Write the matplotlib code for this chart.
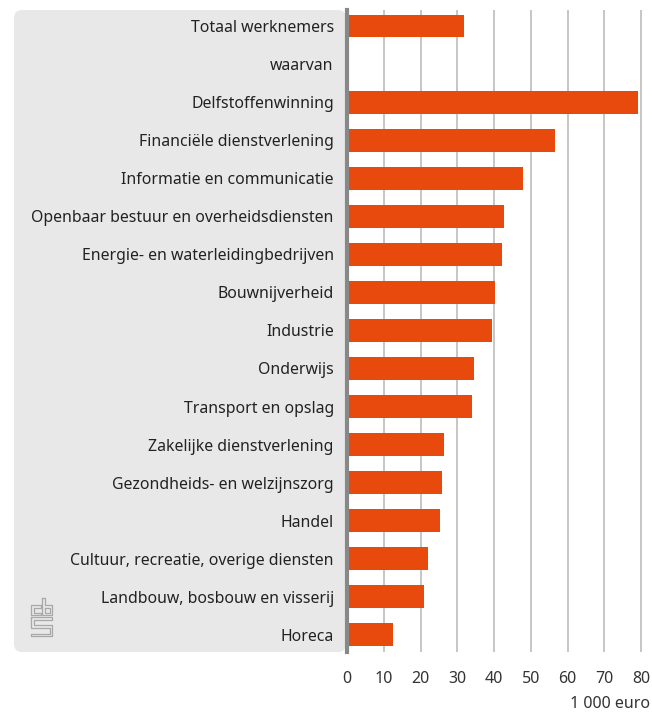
import numpy as np
import matplotlib.pyplot as plt
from matplotlib.patches import FancyBboxPatch

categories = [
    "Totaal werknemers", "waarvan", "Delfstoffenwinning",
    "Financiële dienstverlening", "Informatie en communicatie",
    "Openbaar bestuur en overheidsdiensten", "Energie- en waterleidingbedrijven",
    "Bouwnijverheid", "Industrie", "Onderwijs", "Transport en opslag",
    "Zakelijke dienstverlening", "Gezondheids- en welzijnszorg", "Handel",
    "Cultuur, recreatie, overige diensten", "Landbouw, bosbouw en visserij",
    "Horeca",
]
values = [31.8, np.nan, 79.1, 56.6, 47.9, 42.7, 42.2, 40.3, 39.5, 34.6, 34.0,
          26.4, 25.9, 25.3, 22.0, 21.0, 12.5]
xticks = [0, 10, 20, 30, 40, 50, 60, 70, 80]
unit_label = "1 000 euro"

W, H = 652, 712
plt.rcParams['font.family'] = ['Noto Sans', 'DejaVu Sans']
fig = plt.figure(figsize=(W / 100, H / 100), dpi=100)

# grey label panel, behind the axes
panel = FancyBboxPatch((14 / W, (H - 652) / H), (346 - 14) / W, 642 / H,
                       boxstyle="round,pad=0,rounding_size=0.012",
                       transform=fig.transFigure, facecolor="#e8e8e8",
                       edgecolor="none", zorder=-1)
fig.patches.append(panel)

ax = fig.add_axes([347 / W, (H - 652) / H, (650 - 347) / W, 642 / H])
ax.set_facecolor("none")
y = np.arange(len(categories))
ax.barh(y, values, height=0.6, color="#e8490c", zorder=3)
ax.set_ylim(len(categories) - 0.55, -0.42)
ax.set_xlim(0, 80 * 303 / 294)
ax.set_xticks(xticks)
ax.set_yticks(y, categories)
ax.grid(axis="x", color="#bcbcbc", linewidth=1.2, zorder=1)
ax.tick_params(axis="x", length=0, pad=14, labelsize=11.5, labelcolor="#333333")
ax.tick_params(axis="y", length=0, pad=9.5, labelsize=11.4, labelcolor="#222222")
for s in ["top", "right", "bottom"]:
    ax.spines[s].set_visible(False)
ax.spines["left"].set_color("#888888")
ax.spines["left"].set_linewidth(3)
ax.spines["left"].set_zorder(4)

fig.text(650 / W, 1 - 704 / H, unit_label, ha="right", va="center",
         fontsize=11.5, color="#333333")

# cbs logo, rough outline drawing
def shape(pts):
    xs = [p[0] / W for p in pts]
    ys = [1 - p[1] / H for p in pts]
    fig.add_artist(plt.Line2D(xs, ys, color="#a8a8a8", linewidth=0.9,
                              transform=fig.transFigure))

shape([(41, 605), (31, 605), (31, 615), (41, 615), (41, 612.5),
       (33.5, 612.5), (33.5, 607.5), (41, 607.5), (41, 605)])
shape([(42, 598), (42, 615), (52, 615), (52, 605), (44.5, 605),
       (44.5, 598), (42, 598)])
shape([(44.5, 607.5), (49.5, 607.5), (49.5, 612.5), (44.5, 612.5),
       (44.5, 607.5)])
shape([(31, 617), (52, 617), (52, 619.5), (33.5, 619.5), (33.5, 625),
       (52, 625), (52, 636), (31, 636), (31, 633.5), (49.5, 633.5),
       (49.5, 627.5), (31, 627.5), (31, 617)])

fig.savefig("out.png", dpi=100)
